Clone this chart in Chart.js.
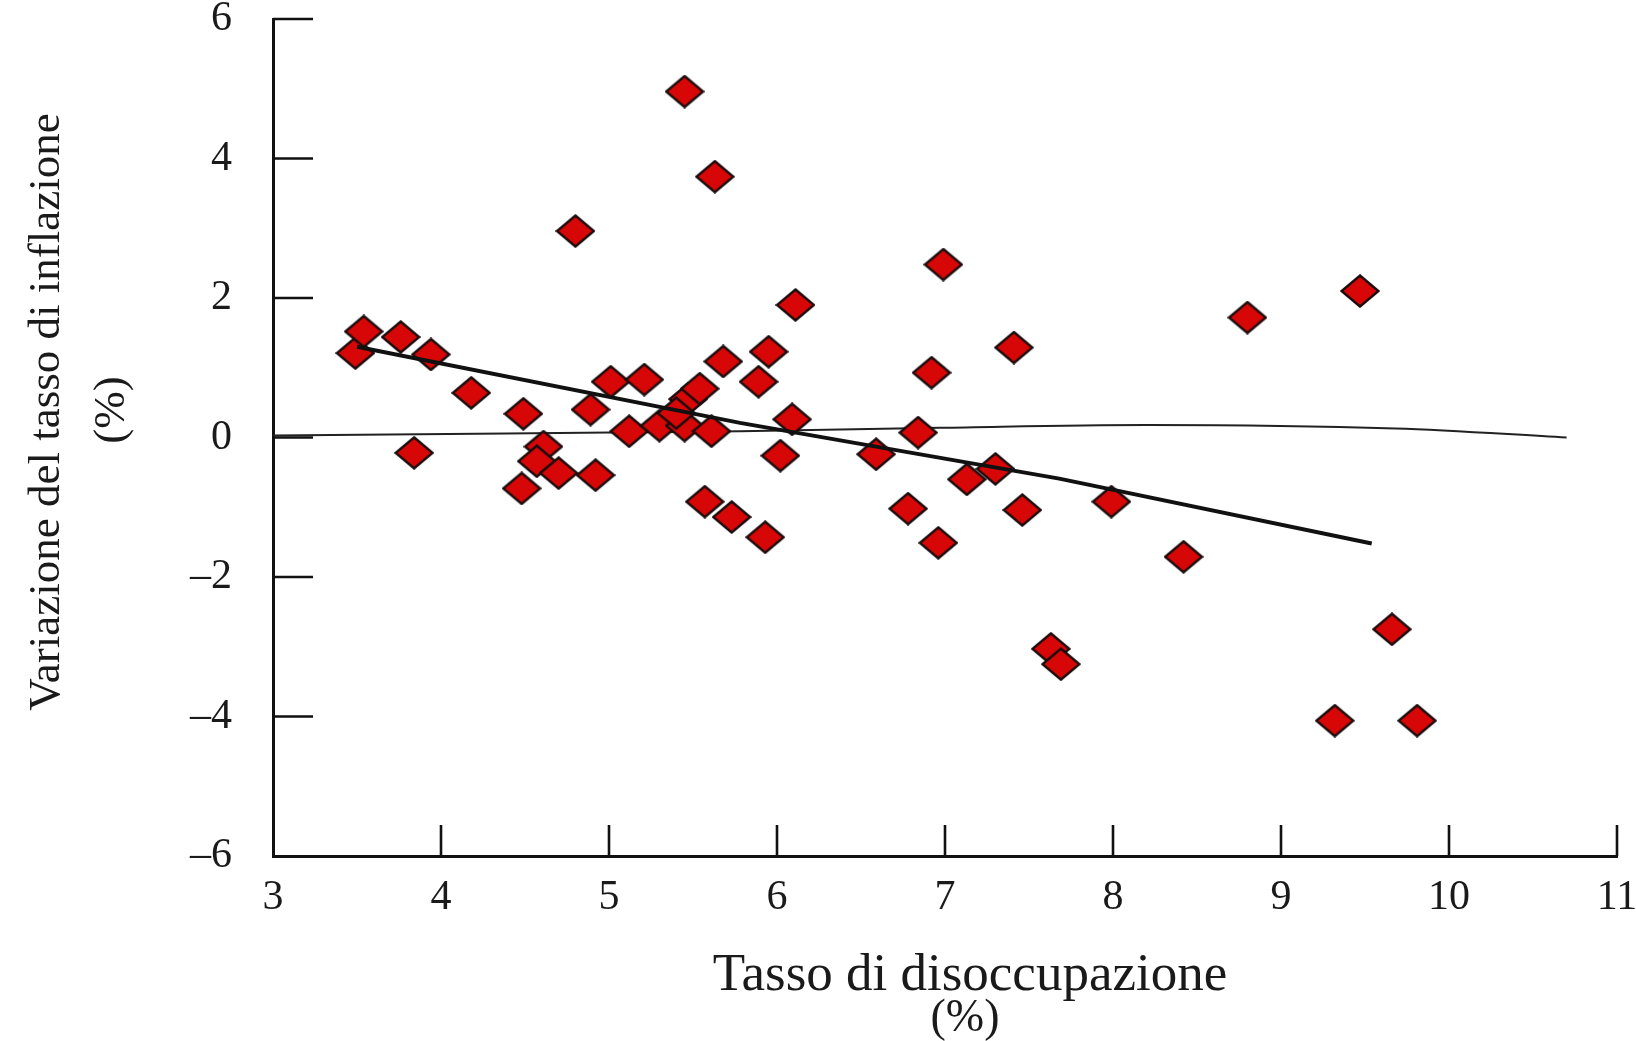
<!DOCTYPE html>
<html>
<head>
<meta charset="utf-8">
<script src="https://cdn.jsdelivr.net/npm/chart.js@4.4.1/dist/chart.umd.min.js"></script>
<style>
  html, body { margin: 0; padding: 0; background: #fff; }
  #wrap { width: 1636px; height: 1041px; }
</style>
</head>
<body>
<div id="wrap"><canvas id="c" width="1636" height="1041"></canvas></div>
<script>
// unemployment rate (%) and change in inflation (%)
const unemployment = [
  3.49, 3.54, 3.76, 3.94, 3.84, 4.18, 4.49, 4.48, 4.61, 4.57,
  4.70, 4.92, 4.89, 5.01, 5.21, 5.12, 4.80, 5.45, 5.63, 5.30,
  5.47, 5.54, 5.45, 5.61, 5.40, 5.68, 5.57, 5.73, 5.93, 5.95,
  5.89, 6.11, 6.09, 6.02, 6.59, 6.78, 6.84, 6.92, 6.99, 6.96,
  7.13, 7.30, 7.41, 7.46, 7.99, 8.42, 7.63, 7.69, 8.80, 9.47,
  9.66, 9.32, 9.81
];
const inflationChange = [
  1.21, 1.52, 1.44, 1.19, -0.22, 0.64, 0.34, -0.73, -0.13, -0.34,
  -0.51, -0.54, 0.40, 0.80, 0.83, 0.09, 2.96, 4.96, 3.74, 0.17,
  0.55, 0.70, 0.17, 0.09, 0.35, 1.09, -0.92, -1.14, -1.43, 1.23,
  0.80, 1.90, 0.26, -0.26, -0.24, -1.02, 0.07, 0.93, 2.48, -1.51,
  -0.60, -0.45, 1.29, -1.04, -0.92, -1.71, -3.03, -3.25, 1.72, 2.10,
  -2.75, -4.06, -4.06
];

// fitted line
const fitX = [3.50, 5.78, 7.68, 9.54];
const fitY = [1.30, 0.21, -0.59, -1.52];

// thin reference line near zero
const zeroX = [3.0, 5.78, 6.97, 8.22, 9.68, 10.7];
const zeroY = [0.03, 0.09, 0.14, 0.18, 0.13, 0.0];

const xTickMarks = [4, 5, 6, 7, 8, 9, 10, 11];
const yTickMarks = [6, 4, 2, 0, -2, -4];

const serif = "'Liberation Serif', 'DejaVu Serif', serif";

// flattened diamond marker
function diamond() {
  const w = 40, h = 34;
  const cv = document.createElement('canvas');
  cv.width = w; cv.height = h;
  const g = cv.getContext('2d');
  g.beginPath();
  g.moveTo(w / 2, 1.5);
  g.lineTo(w - 1.5, h / 2);
  g.lineTo(w / 2, h - 1.5);
  g.lineTo(1.5, h / 2);
  g.closePath();
  g.fillStyle = '#d80707';
  g.fill();
  g.lineWidth = 2.4;
  g.strokeStyle = '#1a0c0c';
  g.stroke();
  return cv;
}

const inwardTicks = {
  id: 'inwardTicks',
  afterDraw(chart) {
    const { ctx, scales: { x, y } } = chart;
    ctx.save();
    ctx.strokeStyle = '#111';
    ctx.lineWidth = 2.6;
    ctx.beginPath();
    xTickMarks.forEach(v => {
      const px = x.getPixelForValue(v);
      ctx.moveTo(px, y.bottom);
      ctx.lineTo(px, y.bottom - 31);
    });
    yTickMarks.forEach(v => {
      const py = y.getPixelForValue(v);
      ctx.moveTo(x.left, py);
      ctx.lineTo(x.left + 40, py);
    });
    ctx.stroke();
    ctx.restore();
  }
};

const axisTitles = {
  id: 'axisTitles',
  afterDraw(chart) {
    const ctx = chart.ctx;
    ctx.save();
    ctx.fillStyle = '#1a1a1a';
    ctx.textAlign = 'center';

    ctx.textBaseline = 'alphabetic';
    ctx.font = '53px ' + serif;
    ctx.fillText('Tasso di disoccupazione', 970, 990);
    ctx.font = '46px ' + serif;
    ctx.fillText('(%)', 965, 1031);

    ctx.font = '45px ' + serif;
    ctx.textBaseline = 'middle';
    ctx.translate(47, 412);
    ctx.rotate(-Math.PI / 2);
    ctx.fillText('Variazione del tasso di inflazione', 0, 0);
    ctx.fillText('(%)', 2, 65);
    ctx.restore();
  }
};

const points = unemployment.map((u, i) => ({ x: u, y: inflationChange[i] }));
const fit = fitX.map((u, i) => ({ x: u, y: fitY[i] }));
const zero = zeroX.map((u, i) => ({ x: u, y: zeroY[i] }));

new Chart(document.getElementById('c'), {
  type: 'scatter',
  data: {
    datasets: [
      {
        data: fit,
        showLine: true,
        borderColor: '#111',
        borderWidth: 4,
        pointRadius: 0,
        tension: 0,
        order: 0
      },
      {
        data: points,
        pointStyle: diamond(),
        pointRadius: 18,
        order: 1
      },
      {
        data: zero,
        showLine: true,
        borderColor: '#222',
        borderWidth: 2,
        pointRadius: 0,
        tension: 0.35,
        order: 2
      }
    ]
  },
  options: {
    responsive: false,
    animation: false,
    devicePixelRatio: 1,
    layout: { padding: { top: 19, right: 19, left: 0, bottom: 0 } },
    plugins: {
      legend: { display: false },
      tooltip: { enabled: false }
    },
    scales: {
      x: {
        type: 'linear',
        min: 3,
        max: 11,
        grid: { display: false, drawTicks: false },
        border: { display: true, color: '#111', width: 3 },
        ticks: {
          stepSize: 1,
          padding: 17,
          color: '#1a1a1a',
          font: { family: serif, size: 42 }
        },
        afterFit(scale) {
          scale.height = 185;
          scale.paddingLeft = 0;
          scale.paddingRight = 0;
        }
      },
      y: {
        type: 'linear',
        min: -6,
        max: 6,
        grid: { display: false, drawTicks: false },
        border: { display: true, color: '#111', width: 3 },
        ticks: {
          stepSize: 2,
          padding: 41,
          color: '#1a1a1a',
          font: { family: serif, size: 42 },
          callback: v => (v < 0 ? '\u2013' + Math.abs(v) : String(v))
        },
        afterFit(scale) {
          scale.width = 273;
          scale.paddingTop = 0;
          scale.paddingBottom = 0;
        }
      }
    }
  },
  plugins: [inwardTicks, axisTitles]
});
</script>
</body>
</html>
